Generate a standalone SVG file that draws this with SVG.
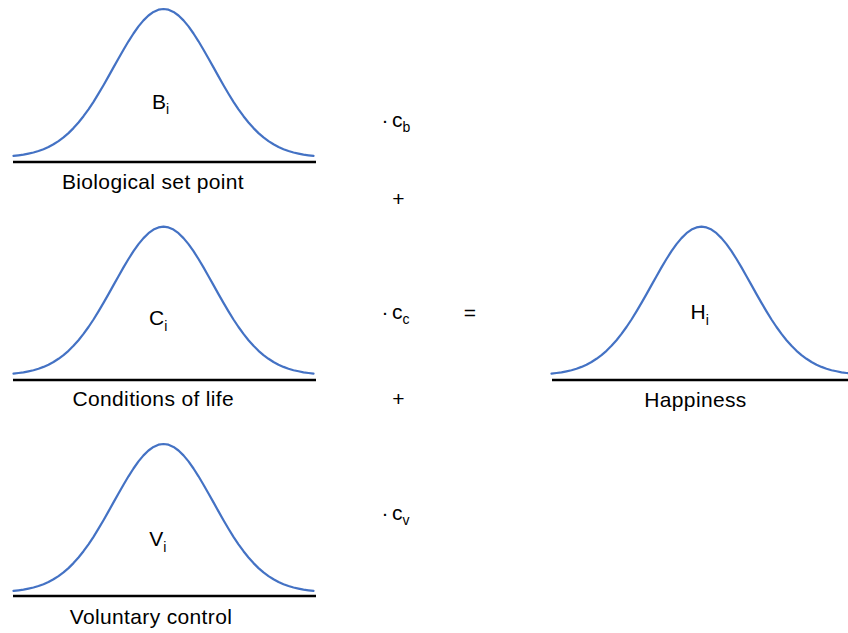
<svg xmlns="http://www.w3.org/2000/svg" xmlns:xlink="http://www.w3.org/1999/xlink" width="848" height="633" viewBox="0 0 848 633">
<style>
.curve{fill:none;stroke:#4472C4;stroke-width:2.2;stroke-linejoin:round;stroke-linecap:round}
.axis{stroke:#000;stroke-width:2.6}
text{font-family:"Liberation Sans",Arial,sans-serif;font-size:21px;fill:#000}
.lbl{text-anchor:middle;letter-spacing:0.35px}
.sub{font-size:14px}
.op{text-anchor:middle}
</style>
<defs>
<polyline id="bell" class="curve" points="-150,-1.6 -145,-2.2 -140,-2.9 -135,-3.9 -130,-5.0 -125,-6.5 -120,-8.3 -115,-10.5 -110,-13.2 -105,-16.4 -100,-20.1 -95,-24.4 -90,-29.4 -85,-35.0 -80,-41.3 -75,-48.2 -70,-55.7 -65,-63.8 -60,-72.3 -55,-81.1 -50,-90.1 -45,-99.0 -40,-107.8 -35,-116.2 -30,-124.0 -25,-131.1 -20,-137.1 -15,-142.0 -10,-145.6 -5,-147.8 0,-148.5 5,-147.8 10,-145.6 15,-142.0 20,-137.1 25,-131.1 30,-124.0 35,-116.2 40,-107.8 45,-99.0 50,-90.1 55,-81.1 60,-72.3 65,-63.8 70,-55.7 75,-48.2 80,-41.3 85,-35.0 90,-29.4 95,-24.4 100,-20.1 105,-16.4 110,-13.2 115,-10.5 120,-8.3 125,-6.5 130,-5.0 135,-3.9 140,-2.9 145,-2.2 150,-1.6"/>
</defs>

<g id="node-biological">
<use xlink:href="#bell" href="#bell" transform="translate(163.5,157.5)"/>
<line class="axis" x1="13" y1="162" x2="316" y2="162"/>
<text x="152" y="108.5">B<tspan class="sub" dy="5.5">i</tspan></text>
<text class="lbl" x="153" y="189">Biological set point</text>
</g>

<g id="node-conditions">
<use xlink:href="#bell" href="#bell" transform="translate(163.5,375.2)"/>
<line class="axis" x1="13" y1="380" x2="316" y2="380"/>
<text x="149" y="325">C<tspan class="sub" dy="5.5">i</tspan></text>
<text class="lbl" x="153.3" y="406">Conditions of life</text>
</g>

<g id="node-voluntary">
<use xlink:href="#bell" href="#bell" transform="translate(163.5,592.5)"/>
<line class="axis" x1="13" y1="596" x2="316" y2="596"/>
<text x="149.3" y="546">V<tspan class="sub" dy="5.5">i</tspan></text>
<text class="lbl" x="151" y="624">Voluntary control</text>
</g>

<g id="node-happiness">
<use xlink:href="#bell" href="#bell" transform="translate(701.5,375.2)"/>
<line class="axis" x1="552" y1="380" x2="848" y2="380"/>
<text x="690.5" y="319">H<tspan class="sub" dy="5.5">i</tspan></text>
<text class="lbl" x="695.5" y="407">Happiness</text>
</g>

<g id="operators">
<text class="op" x="385" y="127">·</text>
<text x="392" y="127">c<tspan class="sub" dy="4.5">b</tspan></text>
<text class="op" x="398.3" y="206">+</text>
<text class="op" x="385" y="319">·</text>
<text x="392" y="319">c<tspan class="sub" dy="4.5">c</tspan></text>
<text class="op" x="470" y="320">=</text>
<text class="op" x="398.3" y="406">+</text>
<text class="op" x="385" y="520">·</text>
<text x="392" y="520">c<tspan class="sub" dy="4.5">v</tspan></text>
</g>

<g id="connectors"></g>
</svg>
